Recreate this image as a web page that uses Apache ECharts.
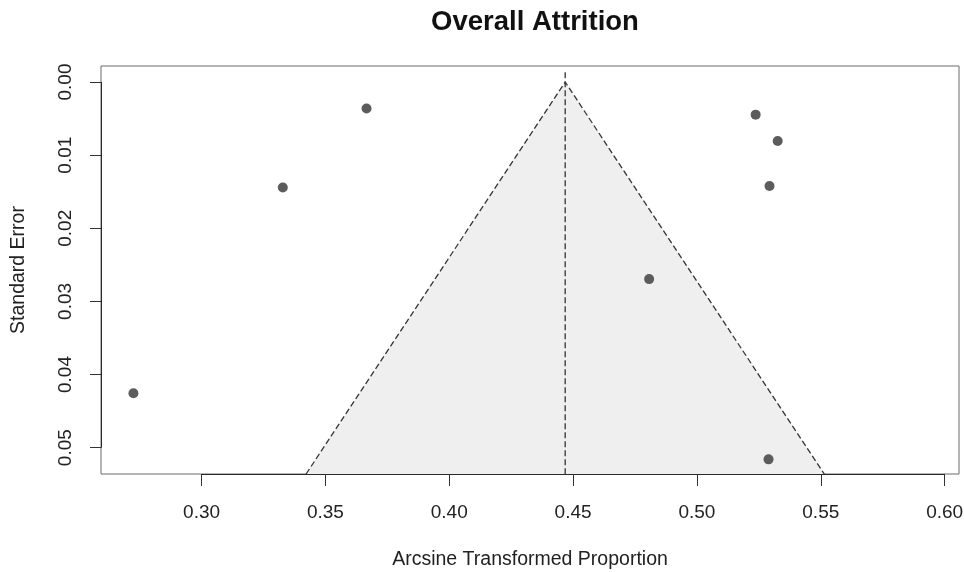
<!DOCTYPE html>
<html>
<head>
<meta charset="utf-8">
<script src="https://cdn.jsdelivr.net/npm/echarts@6/dist/echarts.min.js"></script>
<style>html,body{margin:0;padding:0;background:#fff}#c{width:964px;height:572px}</style>
</head>
<body>
<div id="c"></div>
<script>
// Study estimates (arcsine transformed proportion) and standard errors
const studyX  = [0.3666, 0.3328, 0.2725, 0.5237, 0.5326, 0.5293, 0.4807, 0.5289];
const studySE = [0.00363, 0.01443, 0.04257, 0.00446, 0.00806, 0.01421, 0.02695, 0.0516];
// Funnel (pseudo confidence region) vertices
const funnelX  = [0.3422, 0.4468, 0.5514];
const funnelSE = [0.0536, 0.0, 0.0536];
// Vertical reference line at pooled estimate
const refX = 0.4468;
const refSE = [-0.00135, 0.0536];
// Axis ticks
const xTicks = [0.30, 0.35, 0.40, 0.45, 0.50, 0.55, 0.60];
const yTicks = [0.00, 0.01, 0.02, 0.03, 0.04, 0.05];
const xRange = [0.2594, 0.6058];
const yRange = [-0.00219, 0.0536];

const font = 'Liberation Sans, Arial, sans-serif';
const chart = echarts.init(document.getElementById('c'), null, {renderer: 'canvas'});

const funnelData = funnelX.map((x, i) => [x, funnelSE[i]]);
const pointData = studyX.map((x, i) => [x, studySE[i]]);
const refData = refSE.map(s => [refX, s]);

chart.setOption({
  animation: false,
  backgroundColor: '#ffffff',
  title: {
    text: 'Overall Attrition',
    left: 530, top: 3, textAlign: 'center',
    textStyle: {fontFamily: font, fontSize: 27.5, fontWeight: 'bold', color: '#111'}
  },
  grid: {left: 101, top: 66, width: 858, height: 408, show: true,
         outerBoundsMode: 'none', containLabel: false,
         borderColor: '#6a6a6a', borderWidth: 1, backgroundColor: 'transparent'},
  xAxis: {
    type: 'value', min: xRange[0], max: xRange[1],
    name: 'Arcsine Transformed Proportion', nameLocation: 'middle', nameGap: 76,
    nameTextStyle: {fontFamily: font, fontSize: 19.5, color: '#222'},
    axisLine: {show: false, onZero: false},
    axisTick: {show: true, length: 12, customValues: xTicks, lineStyle: {color: '#333'}},
    axisLabel: {customValues: xTicks, margin: 29, fontFamily: font, fontSize: 19, color: '#222',
                formatter: v => v.toFixed(2)},
    splitLine: {show: false}
  },
  yAxis: {
    type: 'value', min: yRange[0], max: yRange[1], inverse: true,
    name: 'Standard Error', nameLocation: 'middle', nameGap: 72,
    nameTextStyle: {fontFamily: font, fontSize: 19.5, color: '#222'},
    axisLine: {show: false, onZero: false},
    axisTick: {show: true, length: 11, customValues: yTicks, lineStyle: {color: '#333'}},
    axisLabel: {customValues: yTicks, rotate: 90, margin: 26, fontFamily: font, fontSize: 19, color: '#222',
                formatter: v => v.toFixed(2)},
    splitLine: {show: false}
  },
  series: [
    {
      type: 'custom', z: 1, silent: true,
      data: [0],
      renderItem: function (params, api) {
        const pts = funnelData.map(d => api.coord(d));
        return {type: 'polygon', shape: {points: pts}, style: {fill: '#efefef', stroke: null}};
      }
    },
    {
      // R-style axis lines spanning first to last tick
      type: 'custom', z: 3, silent: true,
      data: [0],
      renderItem: function (params, api) {
        const a = api.coord([xTicks[0], yRange[1]]);
        const b = api.coord([xTicks[xTicks.length - 1], yRange[1]]);
        const c = api.coord([xRange[0], yTicks[0]]);
        const d = api.coord([xRange[0], yTicks[yTicks.length - 1]]);
        return {type: 'group', children: [
          {type: 'line', shape: {x1: a[0], y1: Math.round(a[1]) + 0.5, x2: b[0], y2: Math.round(b[1]) + 0.5},
           style: {stroke: '#2a2a2a', lineWidth: 1}},
          {type: 'line', shape: {x1: Math.round(c[0]) + 0.5, y1: c[1], x2: Math.round(d[0]) + 0.5, y2: d[1]},
           style: {stroke: '#2a2a2a', lineWidth: 1}}
        ]};
      }
    },
    {
      type: 'line', z: 2, data: funnelData, symbol: 'none', silent: true,
      lineStyle: {color: '#333', width: 1.3, type: [6, 3]}
    },
    {
      type: 'line', z: 2, data: refData, symbol: 'none', silent: true,
      lineStyle: {color: '#333', width: 1.3, type: [6, 3]}
    },
    {
      type: 'scatter', z: 5, data: pointData, symbol: 'circle', symbolSize: 10,
      itemStyle: {color: '#5c5c5c', opacity: 1}
    }
  ]
});
</script>
</body>
</html>
